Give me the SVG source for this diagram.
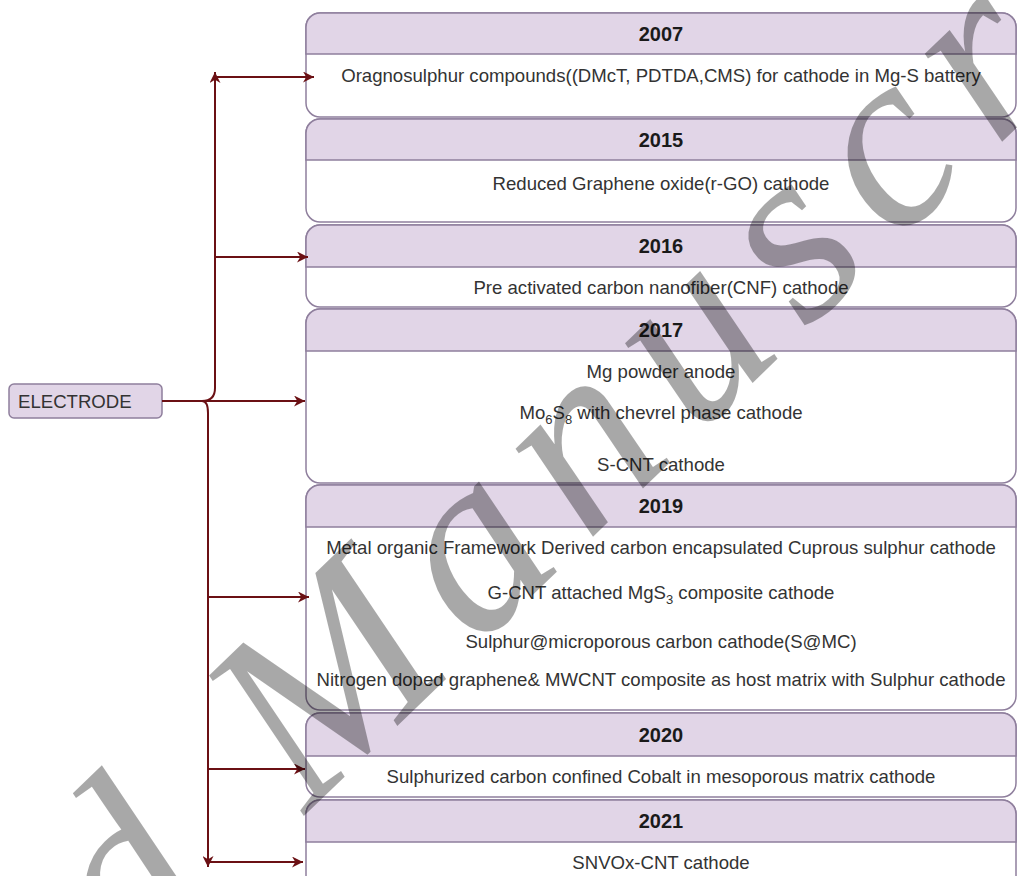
<svg xmlns="http://www.w3.org/2000/svg" width="1018" height="876" viewBox="0 0 1018 876">
<style>
.box{fill:#ffffff;stroke:#8f7f9d;stroke-width:1.5}
.hdr{fill:#e1d5e7;stroke:#8f7f9d;stroke-width:1.5}
.yr{font-family:"Liberation Sans",Arial,sans-serif;font-size:20px;font-weight:bold;fill:#1a1a1a;text-anchor:middle}
.tx{font-family:"Liberation Sans",Arial,sans-serif;font-size:18.6px;fill:#333333;text-anchor:middle}
.sub{font-size:13px}
.cn{fill:none;stroke:#6b1014;stroke-width:2}
.wm{font-family:"Liberation Serif","Times New Roman",serif;font-style:italic;font-size:255px;letter-spacing:25px;fill:#000000;fill-opacity:0.34}
</style>
<defs>
<marker id="ah" viewBox="0 0 10 10" refX="10" refY="5" markerWidth="11" markerHeight="11" markerUnits="userSpaceOnUse" orient="auto">
<path d="M0,0 L10,5 L0,10 L3,5 Z" fill="#6b1014"/>
</marker>
</defs>
<rect width="1018" height="876" fill="#ffffff"/>

<g id="electrode">
<rect x="9" y="384" width="153" height="34" rx="5" fill="#e1d5e7" stroke="#8f7f9d" stroke-width="1.5"/>
<text x="18" y="408" style="font-family:'Liberation Sans',Arial,sans-serif;font-size:18.6px;fill:#333333">ELECTRODE</text>
</g>

<g id="y2007">
<rect class="box" x="306" y="13" width="710" height="104" rx="14"/>
<path class="hdr" d="M306,54 V27 A14,14 0 0 1 320,13 H1002 A14,14 0 0 1 1016,27 V54 Z"/>
<text class="yr" x="661" y="41">2007</text>
<text class="tx" x="661" y="82">Oragnosulphur compounds((DMcT, PDTDA,CMS) for cathode in Mg-S battery</text>
</g>

<g id="y2015">
<rect class="box" x="306" y="119" width="710" height="103" rx="14"/>
<path class="hdr" d="M306,160 V133 A14,14 0 0 1 320,119 H1002 A14,14 0 0 1 1016,133 V160 Z"/>
<text class="yr" x="661" y="147">2015</text>
<text class="tx" x="661" y="190">Reduced Graphene oxide(r-GO) cathode</text>
</g>

<g id="y2016">
<rect class="box" x="306" y="225" width="710" height="82" rx="14"/>
<path class="hdr" d="M306,267 V239 A14,14 0 0 1 320,225 H1002 A14,14 0 0 1 1016,239 V267 Z"/>
<text class="yr" x="661" y="253">2016</text>
<text class="tx" x="661" y="294">Pre activated carbon nanofiber(CNF) cathode</text>
</g>

<g id="y2017">
<rect class="box" x="306" y="309" width="710" height="174" rx="14"/>
<path class="hdr" d="M306,351 V323 A14,14 0 0 1 320,309 H1002 A14,14 0 0 1 1016,323 V351 Z"/>
<text class="yr" x="661" y="337">2017</text>
<text class="tx" x="661" y="378">Mg powder anode</text>
<text class="tx" x="661" y="419">Mo<tspan class="sub" dy="5">6</tspan><tspan dy="-5">S</tspan><tspan class="sub" dy="5">8</tspan><tspan dy="-5"> with chevrel phase cathode</tspan></text>
<text class="tx" x="661" y="471">S-CNT cathode</text>
</g>

<g id="y2019">
<rect class="box" x="306" y="485" width="710" height="225" rx="14"/>
<path class="hdr" d="M306,527 V499 A14,14 0 0 1 320,485 H1002 A14,14 0 0 1 1016,499 V527 Z"/>
<text class="yr" x="661" y="513">2019</text>
<text class="tx" x="661" y="554">Metal organic Framework Derived carbon encapsulated Cuprous sulphur cathode</text>
<text class="tx" x="661" y="599">G-CNT attached MgS<tspan class="sub" dy="5">3</tspan><tspan dy="-5"> composite cathode</tspan></text>
<text class="tx" x="661" y="648">Sulphur@microporous carbon cathode(S@MC)</text>
<text class="tx" x="661" y="686">Nitrogen doped graphene&amp; MWCNT composite as host matrix with Sulphur cathode</text>
</g>

<g id="y2020">
<rect class="box" x="306" y="713" width="710" height="84" rx="14"/>
<path class="hdr" d="M306,756 V727 A14,14 0 0 1 320,713 H1002 A14,14 0 0 1 1016,727 V756 Z"/>
<text class="yr" x="661" y="742">2020</text>
<text class="tx" x="661" y="783">Sulphurized carbon confined Cobalt in mesoporous matrix cathode</text>
</g>

<g id="y2021">
<rect class="box" x="306" y="800" width="710" height="100" rx="14"/>
<path class="hdr" d="M306,842 V814 A14,14 0 0 1 320,800 H1002 A14,14 0 0 1 1016,814 V842 Z"/>
<text class="yr" x="661" y="828">2021</text>
<text class="tx" x="661" y="869">SNVOx-CNT cathode</text>
</g>

<g id="connectors">
<path class="cn" d="M162,401 H305" marker-end="url(#ah)"/>
<path class="cn" d="M202,401 Q215,401 215,388 V72" marker-end="url(#ah)"/>
<path class="cn" d="M202,401 Q208,401 208,413 V867" marker-end="url(#ah)"/>
<path class="cn" d="M215,77 H314" marker-end="url(#ah)"/>
<path class="cn" d="M215,257 H308" marker-end="url(#ah)"/>
<path class="cn" d="M208,597 H309" marker-end="url(#ah)"/>
<path class="cn" d="M208,769 H305" marker-end="url(#ah)"/>
<path class="cn" d="M208,862 H303" marker-end="url(#ah)"/>
</g>

<g id="watermark">
<text class="wm" transform="translate(306,814) rotate(-44)" x="-1223" y="0">Accepted Manuscript</text>
</g>
</svg>
